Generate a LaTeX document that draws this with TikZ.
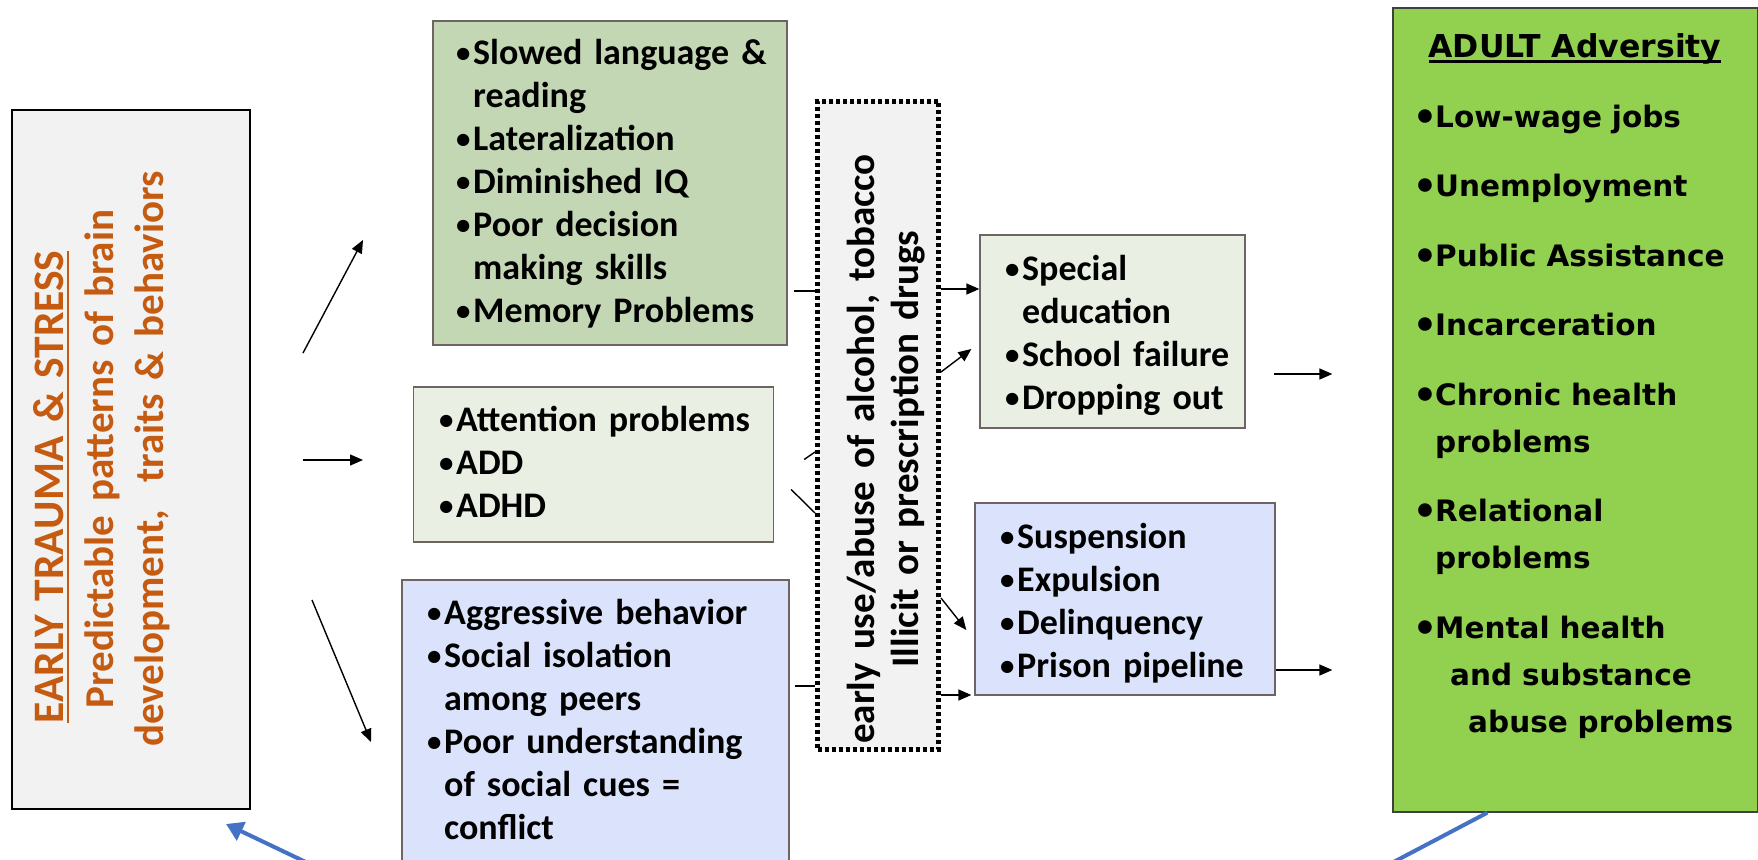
\documentclass[tikz,border=0pt]{standalone}
\usepackage{fontspec}
\setmainfont{Carlito}
\newfontfamily\adfont{DejaVu Sans}
\usetikzlibrary{arrows.meta,calc}
\definecolor{sage}{RGB}{196,215,181}
\definecolor{palegreen}{RGB}{233,240,227}
\definecolor{paleblue}{RGB}{218,227,251}
\definecolor{limegreen}{RGB}{146,208,80}
\definecolor{panelgray}{RGB}{242,242,242}
\definecolor{rust}{RGB}{197,90,17}
\definecolor{arrowblue}{RGB}{68,114,196}
\definecolor{edgegray}{RGB}{110,100,100}
\newcommand\bul{\makebox[20pt][l]{\hspace*{3pt}\raisebox{2pt}{\scalebox{0.8}{\textbullet}}}}
\newcommand\ind{\hspace*{20pt}}
\newcommand\fstrut{\rule{0pt}{30pt}}
\newcommand\abul{\makebox[18pt][l]{\raisebox{2pt}{\rmfamily\bfseries\fontsize{32}{32}\selectfont\textbullet}}}
\newcommand\aind{\hspace*{18pt}}
\newcommand\astrut{\rule{0pt}{24pt}}
\newcommand\lstrut{\rule{0pt}{33pt}}
\newcommand\dstrut{\rule{0pt}{33pt}}
\newcommand\myul[1]{\setbox0\hbox{#1}\rlap{\rule[-6pt]{\wd0}{2.5pt}}\box0}
\begin{document}
\begin{tikzpicture}[x=1pt,y=-1pt,
  box/.style={draw=edgegray,line width=1.3pt,inner sep=0pt},
  listtext/.style={font=\bfseries\fontsize{36}{43}\selectfont,align=left,anchor=north west,inner sep=0pt,text width=#1},
  adtext/.style={font=\adfont\bfseries\fontsize{29.5}{47}\selectfont,align=left,anchor=north west,inner sep=0pt,text width=335pt},
  arr/.style={line width=1.4pt,-{Triangle[length=13pt,width=11pt]}},
  plain/.style={line width=1.4pt},
  bluearr/.style={draw=arrowblue,line width=4pt,-{Triangle[length=17pt,width=20pt]}},
  blueline/.style={draw=arrowblue,line width=4pt}]
\useasboundingbox (0,0) rectangle (1758,859);
\clip (0,0) rectangle (1758,859);

% left panel
\node[draw=black,line width=1.6pt,fill=panelgray,minimum width=238pt,minimum height=699pt,inner sep=0pt] (left) at (131,459.5) {};
\node[rotate=90,anchor=north,inner sep=0pt,text width=660pt,align=center,text=rust,
      font=\bfseries\fontsize{41}{50}\selectfont] (lefttext) at (30,459)
  {\lstrut{\fontsize{43.5}{50}\selectfont\myul{EARLY TRAUMA \& STRESS}}\rule{56pt}{0pt}\\Predictable patterns of brain\\development,\ \ traits \& behaviors};

% middle boxes
\node[box,fill=sage,minimum width=354pt,minimum height=324pt] (b1) at (610,183) {};
\node[listtext=330pt] (b1t) at (453,34)
  {\fstrut\bul Slowed language \&\\\ind reading\\\bul Lateralization\\\bul Diminished IQ\\\bul Poor decision\\\ind making skills\\\bul Memory Problems};

\node[box,fill=palegreen,minimum width=360pt,minimum height=155pt] (b2) at (593.5,464.5) {};
\node[listtext=330pt] (b2t) at (436,401)
  {\fstrut\bul Attention problems\\\bul ADD\\\bul ADHD};

\node[box,fill=paleblue,minimum width=387pt,minimum height=300pt] (b3) at (595.5,730) {};
\node[listtext=360pt] (b3t) at (424,594)
  {\fstrut\bul Aggressive behavior\\\bul Social isolation\\\ind among peers\\\bul Poor understanding\\\ind of social cues =\\\ind conflict};

% dotted substance box
\node[draw=black,fill=panelgray,line width=5pt,dash pattern=on 4pt off 3pt,minimum width=121pt,minimum height=648pt,inner sep=0pt] (dots) at (878,425) {};
\node[rotate=90,anchor=north,inner sep=0pt,text width=640pt,align=center,
      font=\bfseries\fontsize{39}{44}\selectfont] (dotstext) at (841,449)
  {\dstrut early use/abuse of alcohol, tobacco\\Illicit or prescription drugs};

% right middle boxes
\node[box,fill=palegreen,minimum width=265pt,minimum height=193pt] (sp) at (1112.5,331.5) {};
\node[listtext=250pt] (spt) at (1002,250)
  {\fstrut\bul Special\\\ind education\\\bul School failure\\\bul Dropping out};

\node[box,fill=paleblue,minimum width=300pt,minimum height=192pt] (su) at (1125,599) {};
\node[listtext=280pt] (sut) at (997,518)
  {\fstrut\bul Suspension\\\bul Expulsion\\\bul Delinquency\\\bul Prison pipeline};

% adult box
\node[draw=black!75,line width=1.3pt,fill=limegreen,minimum width=365pt,minimum height=804pt,inner sep=0pt] (adult) at (1575.5,410) {};
\node[anchor=base,inner sep=0pt,font=\adfont\bfseries\fontsize{31.5}{36}\selectfont] (adtitle) at (1575,57)
  {\myul{ADULT Adversity}};
\node[adtext] (adlist) at (1417,103)
  {\astrut\abul Low-wage jobs\\[22.5pt]\abul Unemployment\\[22.5pt]\abul Public Assistance\\[22.5pt]\abul Incarceration\\[22.5pt]\abul Chronic health\\\aind problems\\[22.5pt]\abul Relational\\\aind problems\\[22.5pt]\abul Mental health\\\aind\hspace*{15pt}and substance\\\aind\hspace*{33pt}abuse problems};

% arrows from left panel
\coordinate (a1s) at (303,353); \coordinate (a1e) at (363,240);
\coordinate (a2s) at (303,460); \coordinate (a2e) at (363,460);
\coordinate (a3s) at (312,600); \coordinate (a3e) at (371,742);
\draw[arr] (a1s) -- (a1e);
\draw[arr] (a2s) -- (a2e);
\draw[arr] (a3s) -- (a3e);

% connectors into dotted box
\draw[plain] ($(b1.east)+(6,108)$) -- (dots.west |- {0,291});
\draw[plain] ($(b2.east)+(30,-5)$) -- (dots.west |- {0,452});
\draw[plain] ($(b2.east)+(17,25)$) -- (dots.west |- {0,513});
\draw[plain] ($(b3.east)+(5,-44)$) -- (dots.west |- {0,686});

% arrows out of dotted box
\draw[arr] (dots.east |- {0,289}) -- (sp.west |- {0,289});
\draw[arr] (dots.east |- {0,372}) -- ($(sp.west |- {0,349})+(-8,0)$);
\draw[arr] (dots.east |- {0,598}) -- ($(su.west |- {0,630})+(-8,0)$);
\draw[arr] (dots.east |- {0,695}) -- ($(su.west |- {0,695})+(-3,0)$);

% arrows to adult box
\draw[arr] ($(sp.east |- {0,374})+(28,0)$) -- ($(adult.west |- {0,374})+(-60,0)$);
\draw[arr] ($(su.east |- {0,670})+(0,0)$) -- ($(adult.west |- {0,670})+(-60,0)$);

% blue feedback lines
\coordinate (blA) at (312,865);
\coordinate (blB) at (226,824);
\draw[bluearr] (blA) -- (blB);
\coordinate (brA) at (1386,866);
\draw[blueline] ($(adult.south west)+(95,0)$) -- (brA);
\end{tikzpicture}
\end{document}
